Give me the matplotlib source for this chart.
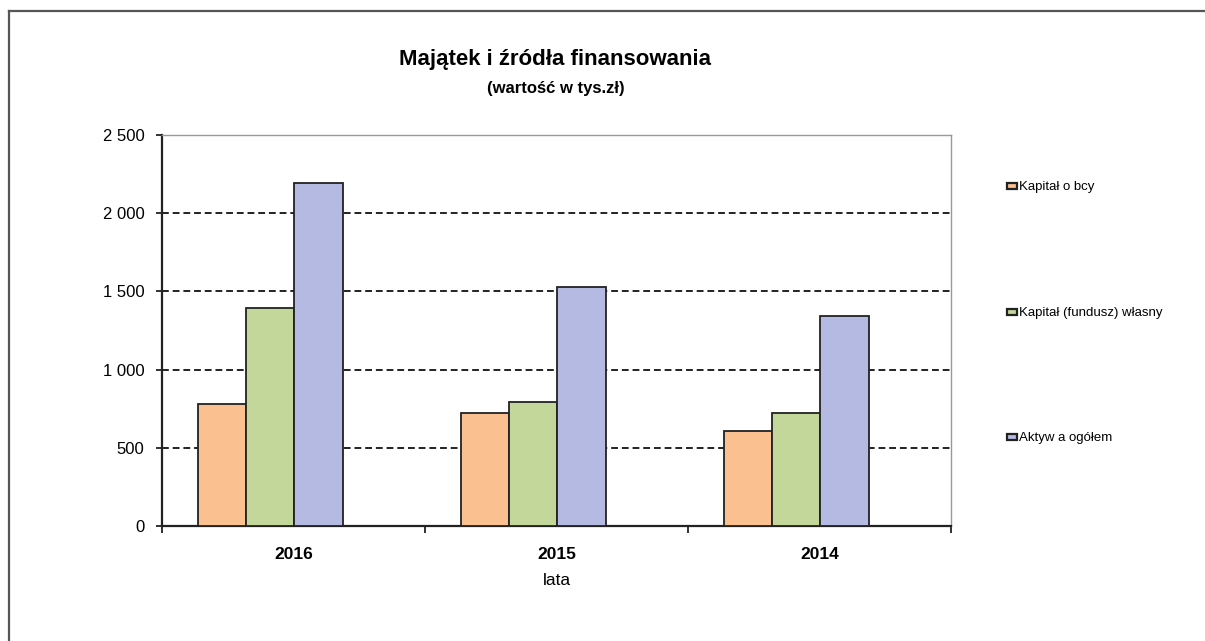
import numpy as np
import matplotlib
matplotlib.use("Agg")
import matplotlib.pyplot as plt
from matplotlib.ticker import FuncFormatter
from matplotlib.lines import Line2D

plt.rcParams['font.family'] = ['Liberation Sans', 'DejaVu Sans']

years = ['2016', '2015', '2014']
series = ['Kapitał o bcy', 'Kapitał (fundusz) własny', 'Aktyw a ogółem']
kapital_obcy = [780, 725, 610]
kapital_wlasny = [1395, 790, 720]
aktywa = [2195, 1525, 1345]
colors = ['#FAC090', '#C4D79B', '#B4BAE2']

fig = plt.figure(figsize=(12.05, 6.41), dpi=100)
fig.patch.set_facecolor('white')

# outer chart frame (only top and left edges visible in the scan)
fig.add_artist(Line2D([9/1205, 9/1205], [0, 1 - 11/641], transform=fig.transFigure, color='#555555', lw=1.6))
fig.add_artist(Line2D([9/1205, 1], [1 - 11/641, 1 - 11/641], transform=fig.transFigure, color='#555555', lw=1.6))

ax = fig.add_axes([162/1205, 1 - 526/641, (951 - 162)/1205, (526 - 135)/641])

x = np.arange(len(years))
w = 0.183
shift = -0.088  # groups sit a bit left of the category centre
vals = [kapital_obcy, kapital_wlasny, aktywa]
for i in range(3):
    ax.bar(x + shift + (i - 1) * w, vals[i], w, color=colors[i], edgecolor='#222222', lw=1.3,
           label=series[i], zorder=3)

ax.set_xlim(-0.5, 2.5)
ax.set_ylim(0, 2500)
ax.set_yticks([0, 500, 1000, 1500, 2000, 2500])
ax.yaxis.set_major_formatter(FuncFormatter(lambda v, p: '{:,.0f}'.format(v).replace(',', ' ')))
for yv in [500, 1000, 1500, 2000]:
    ax.axhline(yv, color='#222222', ls=(0, (3.5, 2)), lw=1.4, zorder=1)

ax.set_xticks([-0.5, 0.5, 1.5, 2.5])
ax.set_xticklabels([])
ax.set_xticks(x, minor=True)
ax.set_xticklabels(years, minor=True, fontsize=12.5, fontweight='bold')
ax.tick_params(axis='x', which='minor', length=0, pad=15)
ax.tick_params(axis='x', which='major', direction='out', length=5, width=1.3, color='#222222')
ax.tick_params(axis='y', direction='out', length=4, width=1.3, color='#222222', labelsize=12, pad=8.5)
ax.set_xlabel('lata', fontsize=12.5, labelpad=8)

for s in ['left', 'bottom']:
    ax.spines[s].set_color('#222222')
    ax.spines[s].set_linewidth(1.6)
for s in ['top', 'right']:
    ax.spines[s].set_color('#999999')
    ax.spines[s].set_linewidth(1.0)

fig.text(555/1205, 1 - 60/641, 'Majątek i źródła finansowania', ha='center', va='center',
         fontsize=16, fontweight='bold')
fig.text(556/1205, 1 - 88/641, '(wartość w tys.zł)', ha='center', va='center',
         fontsize=12, fontweight='bold')

leg_y = [186, 312, 437]
for i in range(3):
    fig.patches.append(plt.Rectangle((1007/1205, 1 - (leg_y[i] + 3)/641), 10/1205, 6/641,
                                     transform=fig.transFigure, facecolor=colors[i],
                                     edgecolor='#222222', lw=1.6))
    fig.text(1019/1205, 1 - (leg_y[i] + 1)/641, series[i], ha='left', va='center', fontsize=9.5)

fig.savefig('out.png', dpi=100)
